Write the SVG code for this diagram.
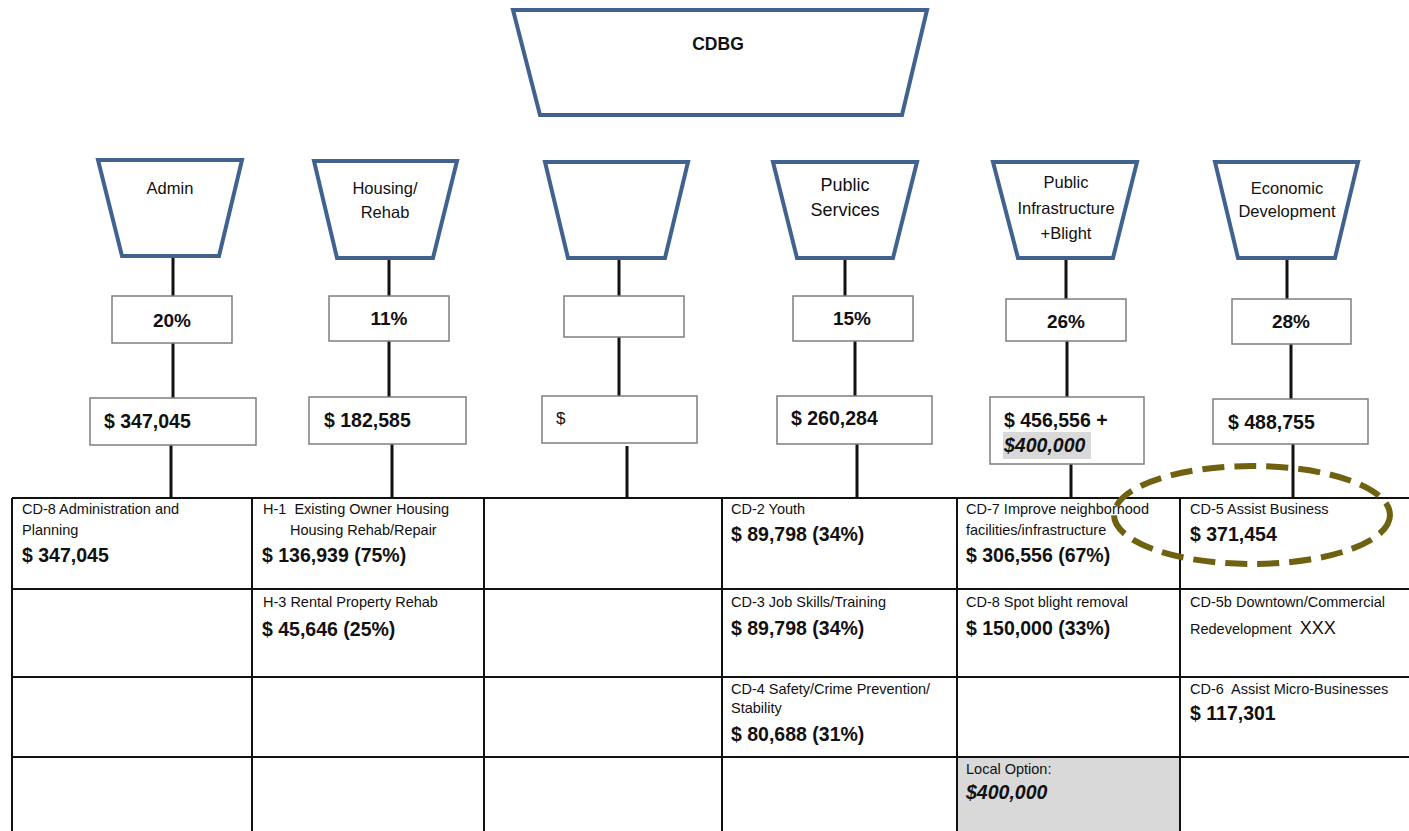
<svg xmlns="http://www.w3.org/2000/svg" width="1409" height="831" viewBox="0 0 1409 831">
<style>
.trap{fill:#fff;stroke:#41628f;stroke-width:4;stroke-linejoin:miter}
.box{fill:#fff;stroke:#7f7f7f;stroke-width:1.5}
.conn{stroke:#111;stroke-width:3;fill:none}
.grid{stroke:#111;stroke-width:2;fill:none}
text{font-family:"Liberation Sans",Arial,sans-serif;fill:#111}
.lbl{font-size:16.5px;text-anchor:middle}
.big{font-size:18px;text-anchor:middle}
.pct{font-size:19px;font-weight:bold;text-anchor:middle}
.amt{font-size:19.5px;font-weight:bold}
.sm{font-size:14.5px;white-space:pre}
.bi{font-size:19.5px;font-weight:bold;font-style:italic}
</style>
<rect width="1409" height="831" fill="#fff"/>

<g id="cdbg">
<polygon class="trap" points="513,10 927,10 902,115 540,115"/>
<text x="718" y="50" class="pct" style="font-size:17.5px">CDBG</text>
</g>

<g id="connectors">
<line class="conn" x1="173" y1="257" x2="173" y2="296"/>
<line class="conn" x1="173" y1="343" x2="173" y2="398"/>
<line class="conn" x1="171" y1="445" x2="171" y2="498"/>
<line class="conn" x1="389" y1="259" x2="389" y2="296"/>
<line class="conn" x1="389" y1="341" x2="389" y2="397"/>
<line class="conn" x1="392" y1="444" x2="392" y2="498"/>
<line class="conn" x1="619" y1="259" x2="619" y2="296"/>
<line class="conn" x1="619" y1="337" x2="619" y2="396"/>
<line class="conn" x1="627" y1="446" x2="627" y2="498"/>
<line class="conn" x1="845" y1="259" x2="845" y2="296"/>
<line class="conn" x1="855" y1="341" x2="855" y2="396"/>
<line class="conn" x1="857" y1="444" x2="857" y2="498"/>
<line class="conn" x1="1066" y1="259" x2="1066" y2="299"/>
<line class="conn" x1="1067" y1="341" x2="1067" y2="397"/>
<line class="conn" x1="1071" y1="464" x2="1071" y2="498"/>
<line class="conn" x1="1287" y1="259" x2="1287" y2="299"/>
<line class="conn" x1="1291" y1="344" x2="1291" y2="399"/>
<line class="conn" x1="1293" y1="444" x2="1293" y2="498"/>
</g>

<g id="admin">
<polygon class="trap" points="98,160 242,160 219,256 122,256"/>
<text x="170" y="194" class="lbl">Admin</text>
<rect class="box" x="112" y="296" width="120" height="47"/>
<text x="172" y="327" class="pct">20%</text>
<rect class="box" x="90" y="398" width="166" height="47"/>
<text x="104" y="428" class="amt">$ 347,045</text>
</g>

<g id="housing">
<polygon class="trap" points="314,161 457,161 433,258 337,258"/>
<text x="385" y="194" class="lbl">Housing/</text>
<text x="385" y="218" class="lbl">Rehab</text>
<rect class="box" x="329" y="296" width="120" height="45"/>
<text x="389" y="325" class="pct">11%</text>
<rect class="box" x="309" y="397" width="157" height="47"/>
<text x="324" y="427" class="amt">$ 182,585</text>
</g>

<g id="blank">
<polygon class="trap" points="545,162 688,162 665,258 568,258"/>
<rect class="box" x="564" y="296" width="120" height="41"/>
<rect class="box" x="542" y="396" width="155" height="47"/>
<text x="556" y="424" font-size="17">$</text>
</g>

<g id="publicservices">
<polygon class="trap" points="773,162 917,162 893,258 797,258"/>
<text x="845" y="191" class="big">Public</text>
<text x="845" y="216" class="big">Services</text>
<rect class="box" x="793" y="296" width="120" height="45"/>
<text x="852" y="325" class="pct">15%</text>
<rect class="box" x="777" y="396" width="155" height="48"/>
<text x="791" y="425" class="amt">$ 260,284</text>
</g>

<g id="infrastructure">
<polygon class="trap" points="993,162 1137,162 1113,258 1018,258"/>
<text x="1066" y="188" class="lbl">Public</text>
<text x="1066" y="214" class="lbl">Infrastructure</text>
<text x="1066" y="239" class="lbl">+Blight</text>
<rect class="box" x="1006" y="299" width="120" height="42"/>
<text x="1066" y="328" class="pct">26%</text>
<rect class="box" x="990" y="397" width="154" height="67"/>
<text x="1004" y="427" class="amt">$ 456,556 +</text>
<rect x="1003" y="432" width="88" height="27" fill="#d9d9d9"/>
<text x="1004" y="452" class="bi">$400,000</text>
</g>

<g id="economic">
<polygon class="trap" points="1215,162 1358,162 1335,258 1238,258"/>
<text x="1287" y="194" class="lbl">Economic</text>
<text x="1287" y="217" class="lbl">Development</text>
<rect class="box" x="1232" y="299" width="119" height="45"/>
<text x="1291" y="328" class="pct">28%</text>
<rect class="box" x="1213" y="399" width="155" height="45"/>
<text x="1228" y="429" class="amt">$ 488,755</text>
</g>

<g id="table">
<rect x="957" y="757" width="223" height="76" fill="#d9d9d9"/>
<line class="grid" x1="12" y1="498" x2="1409" y2="498"/>
<line class="grid" x1="12" y1="589" x2="1409" y2="589"/>
<line class="grid" x1="12" y1="677" x2="1409" y2="677"/>
<line class="grid" x1="12" y1="757" x2="1409" y2="757"/>
<line class="grid" x1="12" y1="498" x2="12" y2="831"/>
<line class="grid" x1="252" y1="498" x2="252" y2="831"/>
<line class="grid" x1="484" y1="498" x2="484" y2="831"/>
<line class="grid" x1="722" y1="498" x2="722" y2="831"/>
<line class="grid" x1="957" y1="498" x2="957" y2="831"/>
<line class="grid" x1="1180" y1="498" x2="1180" y2="831"/>
</g>

<g id="cell-cd8">
<text x="22" y="514" class="sm">CD-8 Administration and</text>
<text x="22" y="535" class="sm">Planning</text>
<text x="22" y="562" class="amt">$ 347,045</text>
</g>
<g id="cell-h1">
<text x="263" y="514" class="sm">H-1  Existing Owner Housing</text>
<text x="290" y="535" class="sm">Housing Rehab/Repair</text>
<text x="262" y="562" class="amt">$ 136,939 (75%)</text>
</g>
<g id="cell-h3">
<text x="263" y="607" class="sm">H-3 Rental Property Rehab</text>
<text x="262" y="636" class="amt">$ 45,646 (25%)</text>
</g>
<g id="cell-cd2">
<text x="731" y="514" class="sm">CD-2 Youth</text>
<text x="731" y="541" class="amt">$ 89,798 (34%)</text>
</g>
<g id="cell-cd3">
<text x="731" y="607" class="sm">CD-3 Job Skills/Training</text>
<text x="731" y="635" class="amt">$ 89,798 (34%)</text>
</g>
<g id="cell-cd4">
<text x="731" y="694" class="sm">CD-4 Safety/Crime Prevention/</text>
<text x="731" y="713" class="sm">Stability</text>
<text x="731" y="741" class="amt">$ 80,688 (31%)</text>
</g>
<g id="cell-cd7">
<text x="966" y="514" class="sm">CD-7 Improve neighborhood</text>
<text x="966" y="535" class="sm">facilities/infrastructure</text>
<text x="966" y="562" class="amt">$ 306,556 (67%)</text>
</g>
<g id="cell-cd8b">
<text x="966" y="607" class="sm">CD-8 Spot blight removal</text>
<text x="966" y="635" class="amt">$ 150,000 (33%)</text>
</g>
<g id="cell-local">
<text x="966" y="774" class="sm">Local Option:</text>
<text x="966" y="799" class="bi">$400,000</text>
</g>
<g id="cell-cd5">
<text x="1190" y="514" class="sm">CD-5 Assist Business</text>
<text x="1190" y="541" class="amt">$ 371,454</text>
</g>
<g id="cell-cd5b">
<text x="1190" y="607" class="sm">CD-5b Downtown/Commercial</text>
<text x="1190" y="634" class="sm">Redevelopment  <tspan font-size="18">XXX</tspan></text>
</g>
<g id="cell-cd6">
<text x="1190" y="694" class="sm">CD-6  Assist Micro-Businesses</text>
<text x="1190" y="720" class="amt">$ 117,301</text>
</g>

<g id="highlight">
<ellipse cx="1252" cy="515" rx="138" ry="49" fill="none" stroke="#6e6110" stroke-width="6" stroke-dasharray="22,10"/>
</g>
</svg>
